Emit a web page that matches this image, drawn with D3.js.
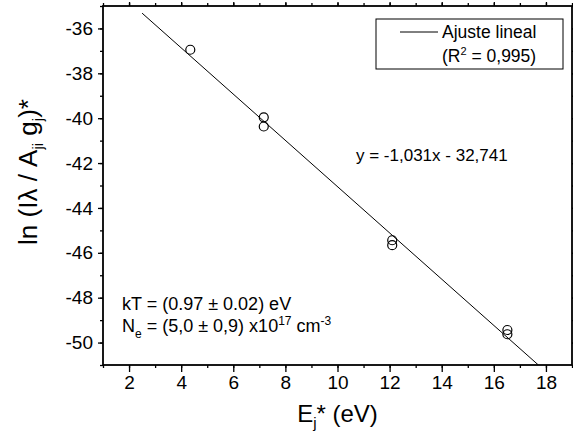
<!DOCTYPE html>
<html><head><meta charset="utf-8">
<script src="https://cdn.jsdelivr.net/npm/d3@7"></script>
<style>body{margin:0;background:#fff}svg{display:block}text{font-family:"Liberation Sans",Arial,sans-serif;fill:#000}</style>
</head><body>
<script>
// data
const energies = [4.35, 7.17, 7.17, 12.1, 12.1, 16.52, 16.52];
const lnValues = [-36.95, -39.96, -40.37, -45.44, -45.66, -49.44, -49.63];
const fitSlope = -1.031;
const fitIntercept = -32.741;
const fitStartX = 2.5;
const xDomain = [1, 19];
const yDomain = [-51, -35];
const xTicks = [2, 4, 6, 8, 10, 12, 14, 16, 18];
const yTicks = [-36, -38, -40, -42, -44, -46, -48, -50];
const xMinor = d3.range(1, 20, 1);
const yMinor = d3.range(-51, -34, 1);

const W = 573, H = 434;
const m = {l: 103, r: 572, t: 6, b: 365};
const svg = d3.select("body").append("svg").attr("width", W).attr("height", H);
const x = d3.scaleLinear().domain(xDomain).range([m.l, m.r]);
const y = d3.scaleLinear().domain(yDomain).range([m.b, m.t]);

const tickFont = "19px";
const fmt = d => String(d);
function minorAxis(axis, minors, pos) {
  const g = svg.append("g").attr("transform", pos)
    .call(axis(minors).tickSize(3).tickFormat(""));
  g.select(".domain").remove();
  g.selectAll("line").attr("stroke", "#000").attr("stroke-width", 1.3);
}
// bottom
minorAxis(s => d3.axisBottom(x).tickValues(s), xMinor, `translate(0,${m.b})`);
const gb = svg.append("g").attr("transform", `translate(0,${m.b})`)
  .call(d3.axisBottom(x).tickValues(xTicks).tickSize(7).tickPadding(4).tickFormat(fmt));
// left
minorAxis(s => d3.axisLeft(y).tickValues(s), yMinor, `translate(${m.l},0)`);
const gl = svg.append("g").attr("transform", `translate(${m.l},0)`)
  .call(d3.axisLeft(y).tickValues(yTicks).tickSize(5).tickPadding(5).tickFormat(fmt));
// top & right
minorAxis(s => d3.axisTop(x).tickValues(s), xMinor, `translate(0,${m.t})`);
const gt = svg.append("g").attr("transform", `translate(0,${m.t})`)
  .call(d3.axisTop(x).tickValues(xTicks).tickSize(4).tickFormat(""));
minorAxis(s => d3.axisRight(y).tickValues(s), yMinor, `translate(${m.r},0)`);
const gr = svg.append("g").attr("transform", `translate(${m.r},0)`)
  .call(d3.axisRight(y).tickValues(yTicks).tickSize(4).tickFormat(""));
[gb, gl, gt, gr].forEach(g => {
  g.select(".domain").remove();
  g.selectAll("line").attr("stroke", "#000").attr("stroke-width", 1.3);
  g.selectAll("text").style("font-size", tickFont).attr("fill", "#000")
   .style("font-family", '"Liberation Sans",Arial,sans-serif');
});
// frame
svg.append("rect").attr("x", m.l).attr("y", m.t).attr("width", m.r - m.l).attr("height", m.b - m.t)
  .attr("fill", "none").attr("stroke", "#000").attr("stroke-width", 1.8);

// clip
svg.append("clipPath").attr("id", "clip").append("rect")
  .attr("x", m.l).attr("y", m.t).attr("width", m.r - m.l).attr("height", m.b - m.t);

// fit line
const fitEndX = (yDomain[0] - fitIntercept) / fitSlope;
const fitPts = [fitStartX, fitEndX].map(v => [v, fitSlope * v + fitIntercept]);
svg.append("path").attr("clip-path", "url(#clip)")
  .attr("d", d3.line().x(d => x(d[0])).y(d => y(d[1]))(fitPts))
  .attr("stroke", "#000").attr("stroke-width", 1).attr("fill", "none");

// points
svg.append("g").selectAll("circle").data(energies.map((e, i) => [e, lnValues[i]])).join("circle")
  .attr("cx", d => x(d[0])).attr("cy", d => y(d[1])).attr("r", 4.5)
  .attr("fill", "none").attr("stroke", "#000").attr("stroke-width", 1.2);

// axis titles
const xt = svg.append("text").attr("x", (m.l + m.r) / 2).attr("y", 422)
  .attr("text-anchor", "middle").style("font-size", "24px");
xt.append("tspan").text("E");
xt.append("tspan").attr("dy", 6).style("font-size", "15px").text("j");
xt.append("tspan").attr("dy", -6).text("* (eV)");

const yt = svg.append("text").attr("transform", `translate(37,172) rotate(-90)`)
  .attr("text-anchor", "middle").style("font-size", "26px");
yt.append("tspan").text("ln (I\u03bb / A");
yt.append("tspan").attr("dy", 6).style("font-size", "15px").text("ji");
yt.append("tspan").attr("dy", -6).text(" g");
yt.append("tspan").attr("dy", 6).style("font-size", "15px").text("j");
yt.append("tspan").attr("dy", -6).text(")*");

// equation
svg.append("text").attr("x", 356).attr("y", 161).style("font-size", "17px")
  .text("y = -1,031x - 32,741");

// kT and Ne
svg.append("text").attr("x", 122).attr("y", 310).style("font-size", "18px")
  .text("kT = (0.97 \u00b1 0.02) eV");
const ne = svg.append("text").attr("x", 122).attr("y", 332).style("font-size", "18px");
ne.append("tspan").text("N");
ne.append("tspan").attr("dy", 6).style("font-size", "12px").text("e");
ne.append("tspan").attr("dy", -6).text(" = (5,0 \u00b1 0,9) x10");
ne.append("tspan").attr("dy", -7).style("font-size", "12px").text("17");
ne.append("tspan").attr("dy", 7).text(" cm");
ne.append("tspan").attr("dy", -7).style("font-size", "12px").text("-3");

// legend
svg.append("rect").attr("x", 376).attr("y", 19).attr("width", 187).attr("height", 50)
  .attr("fill", "#fff").attr("stroke", "#000").attr("stroke-width", 1);
svg.append("line").attr("x1", 400).attr("x2", 438).attr("y1", 32).attr("y2", 32)
  .attr("stroke", "#000").attr("stroke-width", 1);
svg.append("text").attr("x", 442).attr("y", 38).style("font-size", "17.5px").text("Ajuste lineal");
const r2 = svg.append("text").attr("x", 442).attr("y", 62).style("font-size", "17.5px");
r2.append("tspan").text("(R");
r2.append("tspan").attr("dy", -7).style("font-size", "11px").text("2");
r2.append("tspan").attr("dy", 7).text(" = 0,995)");
</script>
</body></html>
